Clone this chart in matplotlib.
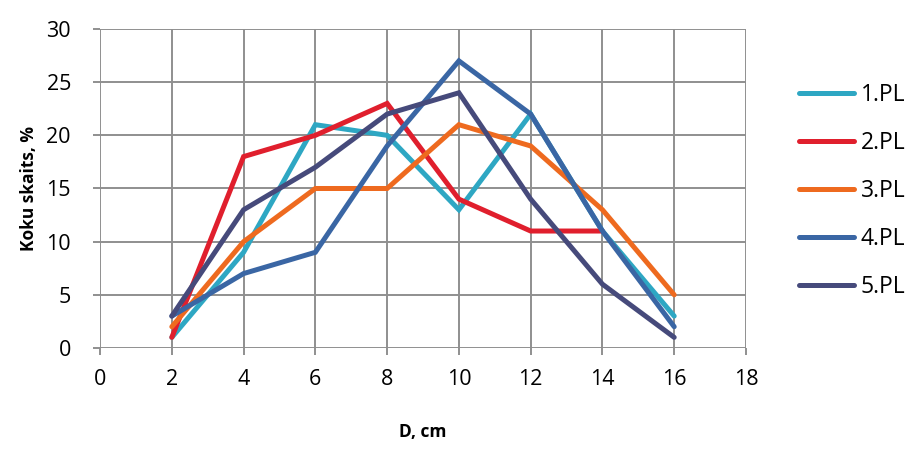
import matplotlib
matplotlib.use('Agg')
from matplotlib import pyplot as plt

plt.rcParams['font.family'] = ['Open Sans', 'DejaVu Sans']

d_cm = [2, 4, 6, 8, 10, 12, 14, 16]
pl1 = [1, 9, 21, 20, 13, 22, 11, 3]
pl2 = [1, 18, 20, 23, 14, 11, 11]
pl3 = [2, 10, 15, 15, 21, 19, 13, 5]
pl4 = [3, 7, 9, 19, 27, 22, 11, 2]
pl5 = [3, 13, 17, 22, 24, 14, 6, 1]
labels = ['1.PL', '2.PL', '3.PL', '4.PL', '5.PL']
colors = ['#2ea7c3', '#e01f2d', '#ee6a1f', '#3a66a4', '#464a7b']

fig = plt.figure(figsize=(9.18, 4.51), dpi=100)
ax = fig.add_axes([0.109, 0.2284, 0.7036, 0.7073])

series = [pl1, pl2, pl3, pl4, pl5]
for vals, lab, col in zip(series, labels, colors):
    ax.plot(d_cm[:len(vals)], vals, color=col, lw=3.6, label=lab,
            solid_capstyle='round', solid_joinstyle='miter')

ax.set_xlim(0, 18)
ax.set_ylim(0, 30)
ax.set_xticks(range(0, 19, 2))
ax.set_yticks(range(0, 31, 5))
ax.grid(True, color='#8f8f8f', lw=1.4)
ax.set_axisbelow(True)
for s in ax.spines.values():
    s.set_visible(False)
ax.tick_params(length=5, width=1.4, color='#8f8f8f', direction='out',
               labelsize=15.5)
ax.tick_params(axis='x', pad=10)
ax.tick_params(axis='y', pad=16)
ax.set_xlabel('D, cm', fontsize=12.5, fontweight='bold', labelpad=24)
ax.set_ylabel('Koku skaits, %', fontsize=12.5, fontweight='bold', labelpad=6)

leg = ax.legend(loc='upper left', bbox_to_anchor=(1.05, 0.895), frameon=False,
                fontsize=16.5, handlelength=2.4, labelspacing=1.05, handletextpad=0.3)

fig.savefig('out.png', dpi=100)
plt.close(fig)
